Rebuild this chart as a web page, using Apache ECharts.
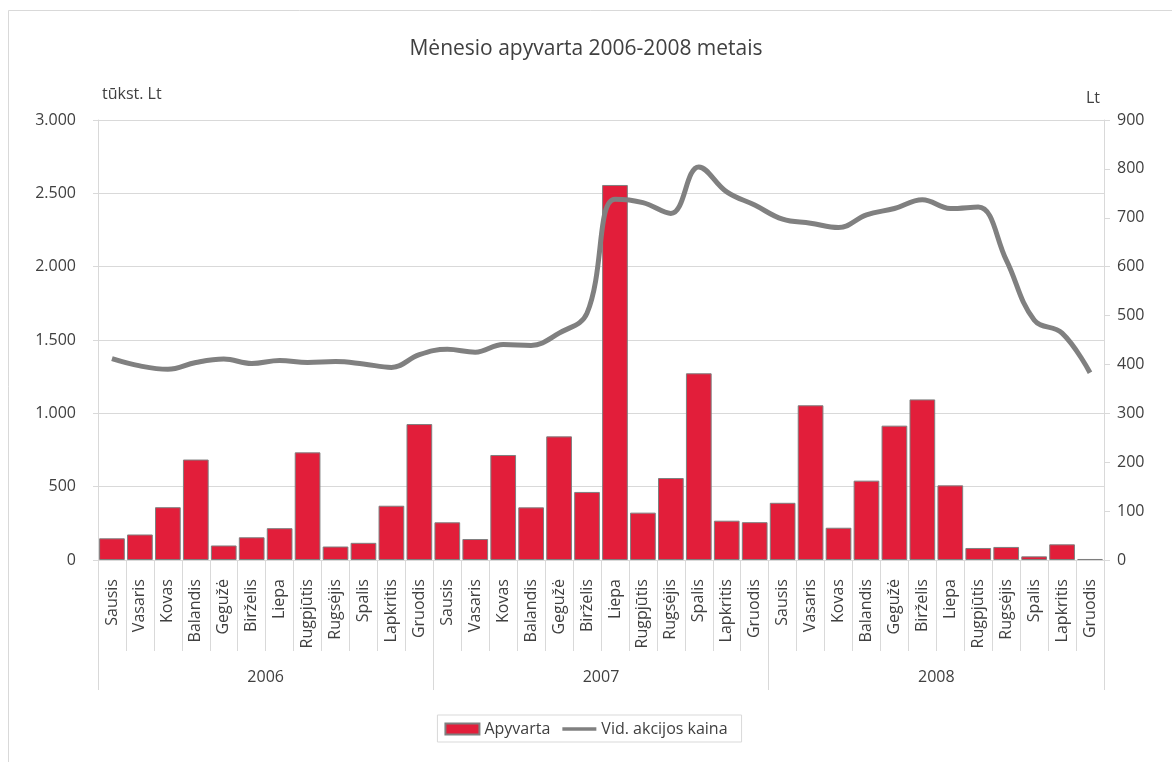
<!DOCTYPE html>
<html>
<head>
<meta charset="utf-8">
<script src="https://cdn.jsdelivr.net/npm/echarts@6/dist/echarts.min.js"></script>
<style>
html,body{margin:0;padding:0;background:#fff;}
#c{width:1172px;height:762px;}
</style>
</head>
<body>
<div id="c"></div>
<script>
var months = ['Sausis','Vasaris','Kovas','Balandis','Gegužė','Birželis','Liepa','Rugpjūtis','Rugsėjis','Spalis','Lapkritis','Gruodis'];
var years = ['2006','2007','2008'];
var categories = [];
years.forEach(function(){ months.forEach(function(m){ categories.push(m); }); });

var turnover = [
  148, 174, 360, 685, 99, 155, 217, 734, 92, 117, 370, 927,
  257, 143, 716, 359, 843, 464, 2557, 323, 559, 1273, 268, 258,
  390, 1055, 220, 541, 916, 1095, 509, 82, 89, 25, 107, 7
];
var avgPrice = [
  412, 397, 390, 404, 411, 402, 408, 404, 406, 401, 394, 420,
  431, 425, 441, 439, 464, 505, 738, 731, 709, 804, 753, 726,
  697, 689, 680, 706, 719, 737, 719, 722, 614, 491, 464, 383
];
var leftTicks = [0, 500, 1000, 1500, 2000, 2500, 3000];
var rightTicks = [0, 100, 200, 300, 400, 500, 600, 700, 800, 900];

var FONT = '"Open Sans", "Noto Sans", sans-serif';
var grid = '#d9d9d9';
var txt = '#404040';

function fmtThousands(v){ return String(v).replace(/\B(?=(\d{3})+(?!\d))/g, '.'); }

var chart = echarts.init(document.getElementById('c'));
chart.setOption({
  backgroundColor: '#fff',
  animation: false,
  textStyle: { fontFamily: FONT },
  graphic: [{
    type: 'rect', silent: true, z: -10,
    shape: { x: 8.5, y: 10.5, width: 1175, height: 770 },
    style: { fill: 'none', stroke: grid, lineWidth: 1 }
  }],
  title: {
    text: 'Mėnesio apyvarta 2006-2008 metais',
    left: 'center', top: 34,
    textStyle: { fontFamily: FONT, fontSize: 21, fontWeight: 'normal', color: txt }
  },
  legend: {
    bottom: 20, left: 'center',
    borderColor: grid, borderWidth: 1, padding: [6, 14, 5, 7],
    itemWidth: 34, itemHeight: 11, itemGap: 12,
    textStyle: { fontFamily: FONT, fontSize: 16, color: txt },
    data: [
      { name: 'Apyvarta', icon: 'rect' },
      { name: 'Vid. akcijos kaina', icon: 'path://M0,0H40V4H0Z' }
    ]
  },
  grid: { left: 98, right: 68, top: 120, bottom: 202, containLabel: false },
  xAxis: [{
    type: 'category', data: categories, position: 'bottom',
    axisLine: { lineStyle: { color: grid } },
    axisTick: { show: true, interval: 0, length: 91, lineStyle: { color: grid } },
    axisLabel: { interval: 0, rotate: 90, margin: 19, fontFamily: FONT, fontSize: 16, color: txt }
  }, {
    type: 'category', data: years, position: 'bottom',
    axisLine: { show: false },
    axisTick: { show: true, interval: 0, length: 130, lineStyle: { color: grid } },
    axisLabel: { interval: 0, margin: 109, fontFamily: FONT, fontSize: 16, color: txt }
  }],
  yAxis: [{
    type: 'value', min: 0, max: 3000, interval: 500,
    name: 'tūkst. Lt', nameLocation: 'end', nameGap: 26,
    nameTextStyle: { align: 'left', verticalAlign: 'middle', fontFamily: FONT, fontSize: 16, color: txt, padding: [0, 0, 0, 4] },
    axisLine: { show: true, lineStyle: { color: grid } },
    axisTick: { show: true, length: 5, lineStyle: { color: grid } },
    splitLine: { show: true, lineStyle: { color: grid } },
    axisLabel: { margin: 22, fontFamily: FONT, fontSize: 16, color: txt, formatter: fmtThousands }
  }, {
    type: 'value', min: 0, max: 900, interval: 100, position: 'right',
    name: 'Lt', nameLocation: 'end', nameGap: 22,
    nameTextStyle: { align: 'right', verticalAlign: 'middle', fontFamily: FONT, fontSize: 16, color: txt, padding: [0, 4, 0, 0] },
    axisLine: { show: true, lineStyle: { color: grid } },
    axisTick: { show: true, length: 6, lineStyle: { color: grid } },
    splitLine: { show: false },
    axisLabel: { margin: 13, fontFamily: FONT, fontSize: 16, color: txt }
  }],
  series: [{
    name: 'Apyvarta', type: 'bar', xAxisIndex: 0, yAxisIndex: 0,
    data: turnover, barCategoryGap: '8%',
    itemStyle: { color: '#E21E3A', borderColor: '#7f7f7f', borderWidth: 1 }
  }, {
    name: 'Vid. akcijos kaina', type: 'line', xAxisIndex: 0, yAxisIndex: 1,
    data: avgPrice, smooth: 0.4, symbol: 'none', showSymbol: false,
    lineStyle: { color: '#808080', width: 5 },
    itemStyle: { color: '#808080' }
  }]
});
</script>
</body>
</html>
